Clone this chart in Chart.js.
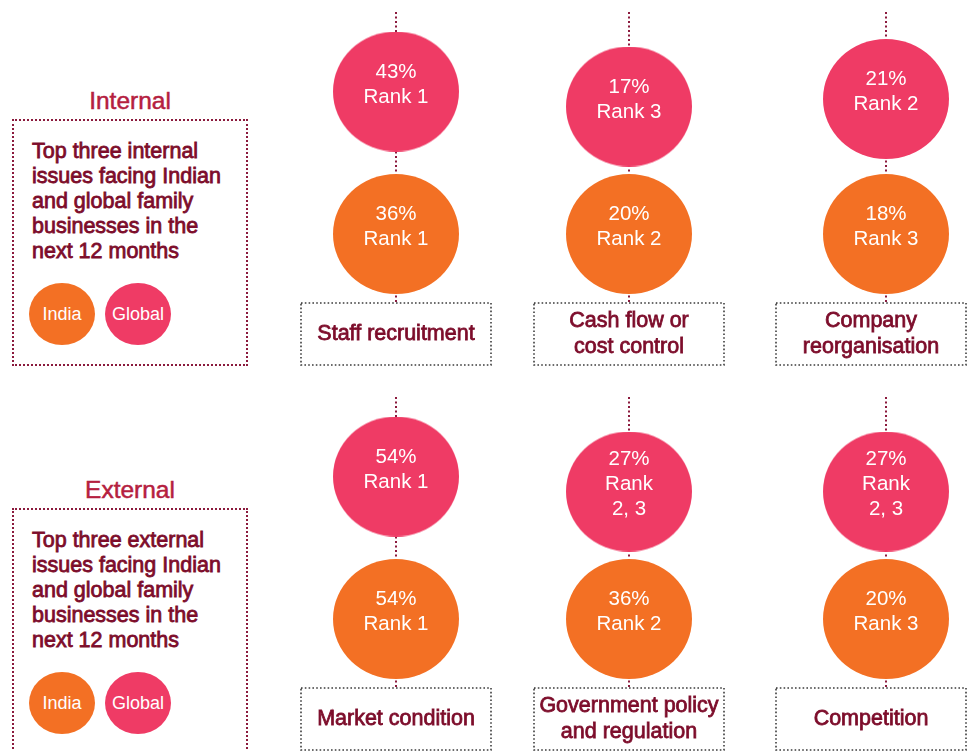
<!DOCTYPE html>
<html>
<head>
<meta charset="utf-8">
<title>Top three issues facing Indian and global family businesses</title>
<script src="https://cdn.jsdelivr.net/npm/chart.js@4.4.1/dist/chart.umd.min.js"></script>
<style>
  html, body { margin: 0; padding: 0; background: #fff; }
  body { width: 972px; height: 751px; overflow: hidden; position: relative;
         font-family: 'Liberation Sans', Arial, Helvetica, sans-serif; }
  .side { position: absolute; left: 0; width: 260px; height: 389px; }
  .ttl { position: absolute; left: 12px; width: 236px; top: 88px; height: 26px; line-height: 26px;
         text-align: center; font-size: 24.5px; color: #b5203f; -webkit-text-stroke: 0.5px #b5203f; }
  .panel { position: absolute; left: 12px; top: 119px; width: 232px; height: 243px;
           border: 2px dotted #8b1a3d; }
  .txt { position: absolute; left: 18px; top: 17.5px; font-size: 21.5px;
         line-height: 25px; color: #7d0d2b; -webkit-text-stroke: 0.8px #7d0d2b; white-space: nowrap; }
  .keys { position: absolute; left: 15px; top: 162px; display: flex; gap: 10px; }
  .key { width: 66px; height: 62px; border-radius: 50%; color: #fff; font-size: 18px;
         display: flex; align-items: center; justify-content: center; }
  .col { position: absolute; width: 240px; height: 384px; }
</style>
</head>
<body>

<div class="side" style="top:0">
  <div class="ttl">Internal</div>
  <div class="panel">
    <div class="txt">Top three internal<br>issues facing Indian<br>and global family<br>businesses in the<br>next 12 months</div>
    <div class="keys"></div>
  </div>
</div>
<div class="side" style="top:389px">
  <div class="ttl">External</div>
  <div class="panel" style="height:260px">
    <div class="txt">Top three external<br>issues facing Indian<br>and global family<br>businesses in the<br>next 12 months</div>
    <div class="keys"></div>
  </div>
</div>

<div id="cols"></div>

<script>
// ---- data ----
const seriesNames = ['India', 'Global'];

const internalIssues = [['Staff recruitment'], ['Cash flow or', 'cost control'], ['Company', 'reorganisation']];
const internalIndiaPct = [36, 20, 18];
const internalIndiaRank = ['1', '2', '3'];
const internalGlobalPct = [43, 17, 21];
const internalGlobalRank = ['1', '3', '2'];

const externalIssues = [['Market condition'], ['Government policy', 'and regulation'], ['Competition']];
const externalIndiaPct = [54, 36, 20];
const externalIndiaRank = ['1', '2', '3'];
const externalGlobalPct = [54, 27, 27];
const externalGlobalRank = ['1', '2, 3', '2, 3'];

// ---- layout / style ----
const COLORS = { India: '#f37024', Global: '#ef3b65' };
const COL_CENTERS = [396, 629, 886];
const SECTION_TOPS = [0, 385];
const ROW_GAP = 20;           // global row sits above india row, nudged by rank
const LINE_TOP = 12, BOX_TOP = 303, BOX_W = 190, BOX_H = 62, PAGE_W = 972;
const FONT = '"Liberation Sans", Arial, Helvetica, sans-serif';

function ellipse(color) {
    var c = document.createElement('canvas');
    c.width = 126; c.height = 120;
    var g = c.getContext('2d');
    g.fillStyle = color;
    g.beginPath();
    g.ellipse(63, 60, 63, 60, 0, 0, Math.PI * 2);
    g.fill();
    return c;
}

function rankLines(r) { return r.indexOf(',') >= 0 ? ['Rank', r] : ['Rank ' + r]; }
function rankValue(r) { return Math.max.apply(null, r.split(',').map(Number)); }

// legend keys in side panels
document.querySelectorAll('.keys').forEach(function (k) {
    seriesNames.forEach(function (n) {
        var d = document.createElement('div');
        d.className = 'key';
        d.style.background = COLORS[n];
        d.textContent = n;
        k.appendChild(d);
    });
});

const issuePlugin = {
    id: 'issueDecor',
    beforeDatasetsDraw: function (chart) {
        var ctx = chart.ctx;
        var x = chart.scales.x.getPixelForValue(0);
        ctx.save();
        ctx.strokeStyle = '#8b1a3d';
        ctx.lineWidth = 2;
        ctx.setLineDash([2, 2.5]);
        ctx.beginPath();
        ctx.moveTo(x, LINE_TOP);
        ctx.lineTo(x, BOX_TOP);
        ctx.stroke();
        ctx.restore();
    },
    afterDatasetsDraw: function (chart) {
        var ctx = chart.ctx;
        var x = chart.scales.x.getPixelForValue(0);
        ctx.save();
        ctx.textAlign = 'center';
        ctx.textBaseline = 'middle';

        // labels inside the circles
        ctx.fillStyle = '#fff';
        ctx.font = '20.5px ' + FONT;
        chart.data.datasets.forEach(function (ds, i) {
            var pt = chart.getDatasetMeta(i).data[0];
            var lines = [ds.pct + '%'].concat(rankLines(ds.rank));
            lines.forEach(function (t, k) {
                ctx.fillText(t, pt.x, pt.y - 7 + (k - (lines.length - 1) / 2) * 25);
            });
        });

        // dotted category box
        var left0 = chart.canvas.parentNode.offsetLeft;
        var bx = Math.min(x - BOX_W / 2, PAGE_W - 6 - left0 - BOX_W);
        ctx.strokeStyle = '#3c3c3c';
        ctx.lineWidth = 1.6;
        ctx.setLineDash([1.6, 2.2]);
        ctx.strokeRect(bx, BOX_TOP, BOX_W, BOX_H);
        ctx.setLineDash([]);

        // medium-weight look: regular face with a hairline stroke
        var lab = chart.data.labels[0];
        ctx.fillStyle = '#7d0d2b';
        ctx.strokeStyle = '#7d0d2b';
        ctx.lineWidth = 0.8;
        ctx.font = '21.5px ' + FONT;
        lab.forEach(function (t, k) {
            var ty = BOX_TOP + BOX_H / 2 + (k - (lab.length - 1) / 2) * 26;
            ctx.fillText(t, bx + BOX_W / 2, ty);
            ctx.strokeText(t, bx + BOX_W / 2, ty);
        });
        ctx.restore();
    }
};

function makeColumn(top, left, label, indiaPct, indiaRank, globalPct, globalRank) {
    var wrap = document.createElement('div');
    wrap.className = 'col';
    wrap.style.top = top + 'px';
    wrap.style.left = left + 'px';
    var cv = document.createElement('canvas');
    cv.width = 240; cv.height = 384;
    wrap.appendChild(cv);
    document.getElementById('cols').appendChild(wrap);

    return new Chart(cv, {
        type: 'line',
        data: {
            labels: [label],
            datasets: [{
                label: 'Global',
                data: [ROW_GAP - rankValue(globalRank)],
                pct: globalPct, rank: globalRank,
                showLine: false,
                pointStyle: ellipse(COLORS.Global),
                pointRadius: 63, pointHoverRadius: 63,
                pointBorderWidth: 0,
                backgroundColor: COLORS.Global
            }, {
                label: 'India',
                data: [0],
                pct: indiaPct, rank: indiaRank,
                showLine: false,
                pointStyle: ellipse(COLORS.India),
                pointRadius: 63, pointHoverRadius: 63,
                pointBorderWidth: 0,
                backgroundColor: COLORS.India
            }]
        },
        options: {
            responsive: false,
            animation: false,
            events: [],
            layout: { padding: 0, autoPadding: false },
            plugins: {
                legend: { display: false },
                tooltip: { enabled: false }
            },
            scales: {
                x: { display: false, offset: true },
                y: { display: false, min: -20, max: 31.2 }
            }
        },
        plugins: [issuePlugin]
    });
}

COL_CENTERS.forEach(function (cx, i) {
    makeColumn(SECTION_TOPS[0], cx - 120, internalIssues[i],
        internalIndiaPct[i], internalIndiaRank[i], internalGlobalPct[i], internalGlobalRank[i]);
    makeColumn(SECTION_TOPS[1], cx - 120, externalIssues[i],
        externalIndiaPct[i], externalIndiaRank[i], externalGlobalPct[i], externalGlobalRank[i]);
});
</script>
</body>
</html>
